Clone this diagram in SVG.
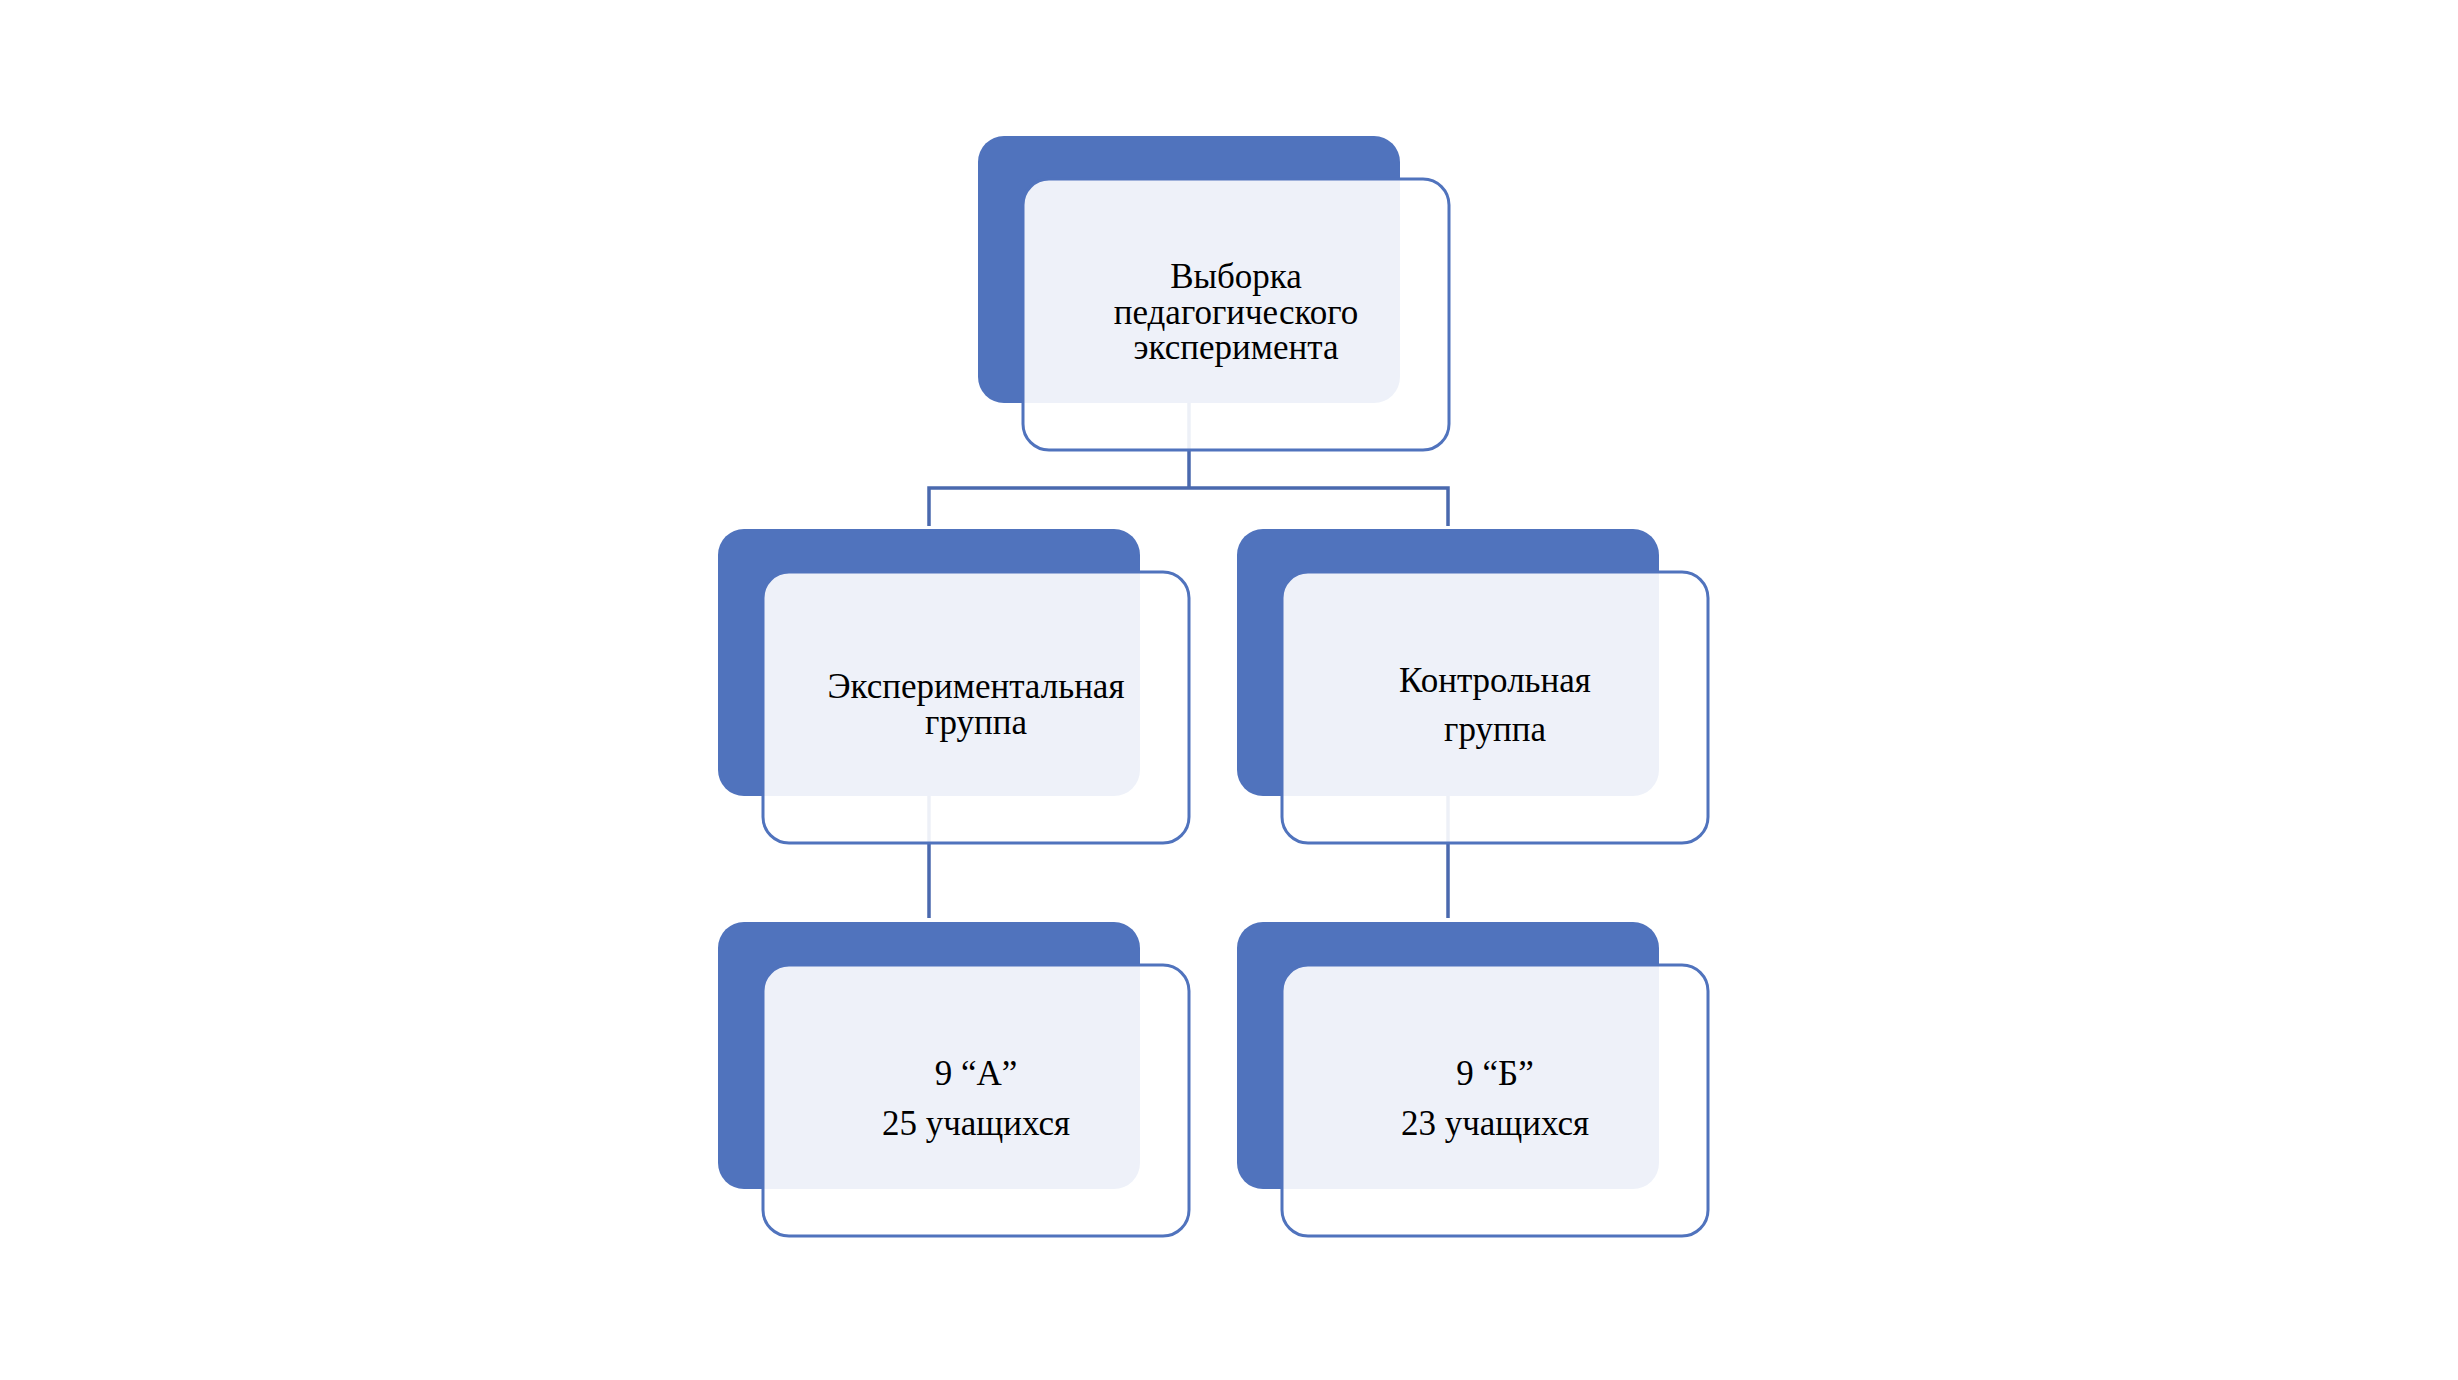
<svg xmlns="http://www.w3.org/2000/svg" width="2458" height="1380" viewBox="0 0 2458 1380">
<style>
.back{fill:#5073BD;}
.front{fill:#FFFFFF;fill-opacity:0.9;stroke:#5073BD;stroke-width:3;}
.conn{fill:none;stroke:#4A69AE;stroke-width:3.5;}
.lbl{font-family:"Liberation Serif","Times New Roman",serif;font-size:35px;fill:#000000;text-anchor:middle;}
</style>
<rect width="2458" height="1380" fill="#FFFFFF"/>
<g id="connectors">
<path class="conn" d="M1189 403 V488 M929 488 H1448 M929 486.25 V526 M1448 486.25 V526"/>
<path class="conn" d="M929 796 V918"/>
<path class="conn" d="M1448 796 V918"/>
</g>
<g id="node-top">
<rect class="back" x="978" y="136" width="422" height="267" rx="26"/>
<rect class="front" x="1023" y="179" width="426" height="271" rx="26"/>
<text class="lbl" x="1236" y="288">Выборка</text>
<text class="lbl" x="1236" y="324">педагогического</text>
<text class="lbl" x="1236" y="359">эксперимента</text>
</g>
<g id="node-exp">
<rect class="back" x="718" y="529" width="422" height="267" rx="26"/>
<rect class="front" x="763" y="572" width="426" height="271" rx="26"/>
<text class="lbl" x="976" y="698">Экспериментальная</text>
<text class="lbl" x="976" y="734">группа</text>
</g>
<g id="node-ctrl">
<rect class="back" x="1237" y="529" width="422" height="267" rx="26"/>
<rect class="front" x="1282" y="572" width="426" height="271" rx="26"/>
<text class="lbl" x="1495" y="692">Контрольная</text>
<text class="lbl" x="1495" y="741">группа</text>
</g>
<g id="node-9a">
<rect class="back" x="718" y="922" width="422" height="267" rx="26"/>
<rect class="front" x="763" y="965" width="426" height="271" rx="26"/>
<text class="lbl" x="976" y="1085">9 “А”</text>
<text class="lbl" x="976" y="1135">25 учащихся</text>
</g>
<g id="node-9b">
<rect class="back" x="1237" y="922" width="422" height="267" rx="26"/>
<rect class="front" x="1282" y="965" width="426" height="271" rx="26"/>
<text class="lbl" x="1495" y="1085">9 “Б”</text>
<text class="lbl" x="1495" y="1135">23 учащихся</text>
</g>
</svg>
